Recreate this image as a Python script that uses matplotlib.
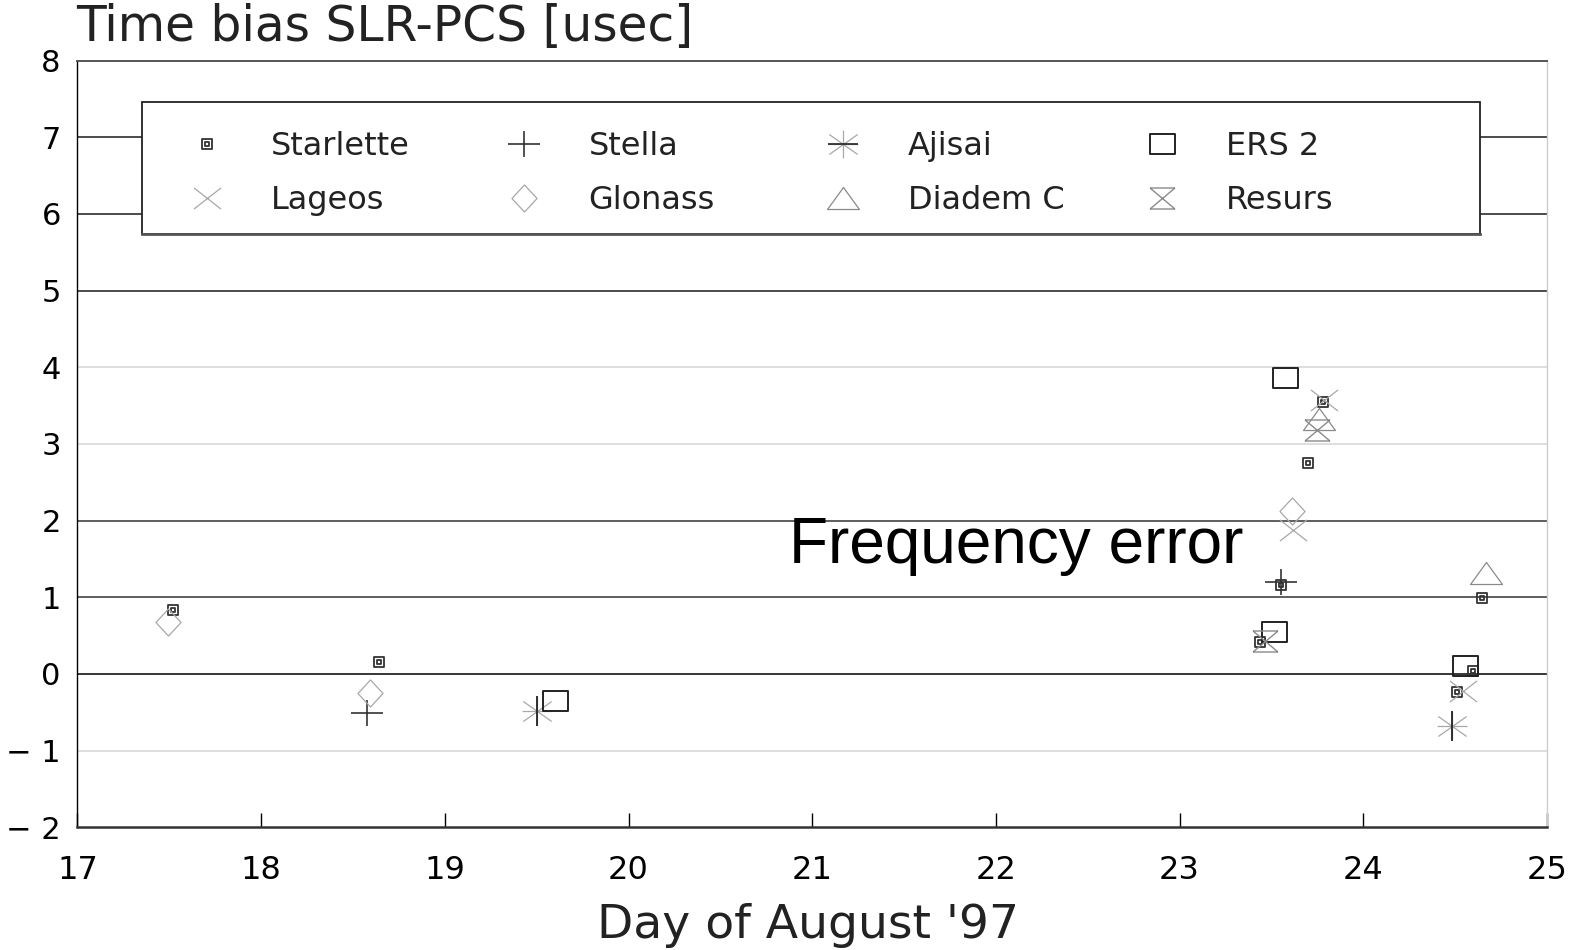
import numpy as np
import matplotlib
matplotlib.use("Agg")
import matplotlib.pyplot as plt
from matplotlib.path import Path
from matplotlib.patches import Rectangle

# ---------------- data ----------------
starlette_x = [17.52, 18.64, 23.44, 23.555, 23.70, 23.78, 24.51, 24.595, 24.645]
starlette_y = [0.83, 0.15, 0.41, 1.16, 2.75, 3.54, -0.24, 0.04, 0.99]
stella_x = [18.575, 23.555]
stella_y = [-0.51, 1.20]
ajisai_x = [19.50, 24.485]
ajisai_y = [-0.48, -0.68]
ers2_x = [19.60, 23.515, 23.575, 24.555]
ers2_y = [-0.36, 0.54, 3.86, 0.10]
lageos_x = [23.62, 23.785, 24.545]
lageos_y = [1.88, 3.57, -0.23]
glonass_x = [17.495, 18.595, 23.61]
glonass_y = [0.67, -0.25, 2.13]
diadem_x = [23.76, 24.67]
diadem_y = [3.32, 1.32]
resurs_x = [23.465, 23.75]
resurs_y = [0.43, 3.18]

x_ticks = [17, 18, 19, 20, 21, 22, 23, 24, 25]
y_ticks = [-2, -1, 0, 1, 2, 3, 4, 5, 6, 7, 8]
y_tick_labels = ["\u2212 2", "\u2212 1", "0", "1", "2", "3", "4", "5", "6", "7", "8"]

title = "Time bias SLR-PCS [usec]"
xlabel = "Day of August '97"
note = "Frequency error"

# ---------------- marker shapes ----------------
M, L, C = Path.MOVETO, Path.LINETO, Path.CLOSEPOLY


def closed(pts):
    return Path(pts + [pts[0]], [M] + [L] * (len(pts) - 1) + [C])


def segs(pairs):
    v, c = [], []
    for a, b in pairs:
        v += [a, b]
        c += [M, L]
    return Path(v, c)


p_starlette = Path(
    [(-1, -1), (1, -1), (1, 1), (-1, 1), (-1, -1),
     (-0.4, -0.4), (0.4, -0.4), (0.4, 0.4), (-0.4, 0.4), (-0.4, -0.4)],
    [M, L, L, L, C, M, L, L, L, C])
p_stella = segs([((-1, 0), (1, 0)), ((0, -0.79), (0, 0.79))])
p_ajisai = segs([((-1, 0), (1, 0)), ((0, -0.93), (0, 0.93)),
                 ((-0.95, -0.67), (0.95, 0.67)), ((-0.95, 0.67), (0.95, -0.67))])
p_ajisai_v = segs([((0, -0.93), (0, 0.93))])
p_ajisai_h = segs([((-1, 0), (1, 0))])
p_ers = closed([(-1, -0.8), (1, -0.8), (1, 0.8), (-1, 0.8)])
p_lageos = segs([((-1, -0.78), (1, 0.78)), ((-1, 0.78), (1, -0.78))])
p_glonass = closed([(0, 1), (0.926, 0), (0, -1), (-0.926, 0)])
p_diadem = closed([(0, 0.69), (1, -0.69), (-1, -0.69)])
p_resurs = segs([((-1, 0.84), (1, 0.84)), ((-1, -0.84), (1, -0.84)),
                 ((-1, 0.84), (1, -0.84)), ((1, 0.84), (-1, -0.84))])

DARK = "#222222"
LIGHT = "#a8a8a8"
MID = "#8a8a8a"

series = [
    # name, x, y, path, size(pt), color, lw
    ("Starlette", starlette_x, starlette_y, p_starlette, 7.0, "#333333", 1.3),
    ("Stella", stella_x, stella_y, p_stella, 23.5, "#333333", 1.2),
    ("Ajisai", ajisai_x, ajisai_y, p_ajisai, 21.5, LIGHT, 0.9),
    ("ERS 2", ers2_x, ers2_y, p_ers, 18.0, DARK, 1.4),
    ("Lageos", lageos_x, lageos_y, p_lageos, 19.5, LIGHT, 0.9),
    ("Glonass", glonass_x, glonass_y, p_glonass, 19.5, LIGHT, 0.9),
    ("Diadem C", diadem_x, diadem_y, p_diadem, 23.0, MID, 0.9),
    ("Resurs", resurs_x, resurs_y, p_resurs, 18.0, MID, 1.0),
]

# ---------------- figure ----------------
plt.rcParams['font.family'] = ['DejaVu Sans']
fig = plt.figure(figsize=(15.78, 9.5), dpi=100)
ax = fig.add_axes([0.0491, 0.1293, 0.9312, 0.8069])
ax.set_xlim(17, 25)
ax.set_ylim(-2, 8)

# grid lines with mixed shades like the original
grid_colors = {7: "#1a1a1a", 6: "#1a1a1a", 5: "#1a1a1a", 4: "#d4d4d4",
               3: "#d4d4d4", 2: "#333333", 1: "#333333", 0: "#000000",
               -1: "#d4d4d4"}
for yv, col in grid_colors.items():
    ax.axhline(yv, color=col, lw=1.1, zorder=1)

ax.spines['left'].set_color("#000000")
ax.spines['left'].set_linewidth(1.0)
ax.spines['top'].set_color("#555555")
ax.spines['top'].set_linewidth(1.4)
ax.spines['right'].set_color("#cccccc")
ax.spines['right'].set_linewidth(1.0)
ax.spines['bottom'].set_color("#333333")
ax.spines['bottom'].set_linewidth(1.8)

ax.set_xticks(x_ticks)
ax.set_xticklabels([str(t) for t in x_ticks])
ax.tick_params(axis='x', direction='in', length=10, width=1.0, pad=20,
               labelsize=23, top=False)
tick_cols = {18: "#cccccc", 19: "#222222", 20: "#222222", 21: "#cccccc",
             22: "#222222", 23: "#cccccc", 24: "#cccccc", 17: "#222222", 25: "#cccccc"}
for t, tv in zip(ax.xaxis.get_major_ticks(), x_ticks):
    t.tick1line.set_color(tick_cols[tv])

ax.set_yticks(y_ticks)
ax.set_yticklabels(y_tick_labels)
ax.tick_params(axis='y', length=0, pad=12, labelsize=22)

# data
for name, xs, ys, pth, ms, col, lw in series:
    ax.plot(xs, ys, linestyle='none', marker=pth, markersize=ms,
            markerfacecolor='none', markeredgecolor=col, markeredgewidth=lw,
            zorder=4)
    if name == "Ajisai":
        ax.plot(xs, ys, linestyle='none', marker=p_ajisai_v, markersize=21.5,
                markerfacecolor='none', markeredgecolor=DARK,
                markeredgewidth=1.3, zorder=5)

# annotation (grid line runs through it, as in the original)
ax.text(20.875, 1.45, note, fontsize=46, family=['Liberation Sans', 'DejaVu Sans'],
        ha='left', va='baseline', zorder=3, color='black')

# ---------------- legend (drawn manually) ----------------
box = Rectangle((0.0438, 0.7732), 0.9109, 0.1731, transform=ax.transAxes,
                facecolor='white', edgecolor='#222222', lw=1.3, zorder=3)
ax.add_patch(box)
ax.plot([0.0438, 0.9547], [0.7732, 0.7732], transform=ax.transAxes,
        color='#555555', lw=2.0, zorder=3.5)

col_marker_x = [0.0882, 0.3041, 0.5212, 0.7383]
col_text_x = [0.1315, 0.3479, 0.5650, 0.7814]
row_y = [0.8913, 0.8203]
text_row_y = [0.8880, 0.8170]
legend_layout = {
    "Starlette": (0, 0), "Stella": (1, 0), "Ajisai": (2, 0), "ERS 2": (3, 0),
    "Lageos": (0, 1), "Glonass": (1, 1), "Diadem C": (2, 1), "Resurs": (3, 1),
}
for name, xs, ys, pth, ms, col, lw in series:
    ci, ri = legend_layout[name]
    ax.plot([col_marker_x[ci]], [row_y[ri]], transform=ax.transAxes,
            linestyle='none', marker=pth, markersize=ms,
            markerfacecolor='none', markeredgecolor=col, markeredgewidth=lw,
            zorder=4)
    if name == "Ajisai":
        ax.plot([col_marker_x[ci]], [row_y[ri]], transform=ax.transAxes,
                linestyle='none', marker=p_ajisai_h, markersize=21.5,
                markerfacecolor='none', markeredgecolor=DARK,
                markeredgewidth=1.2, zorder=5)
    ax.text(col_text_x[ci], text_row_y[ri], name, transform=ax.transAxes,
            fontsize=23, ha='left', va='center', color='#222222', zorder=5)

# titles
fig.text(76 / 1578, 1 - 41 / 950, title, fontsize=35, ha='left', va='baseline',
         color='#222222')
fig.text(808 / 1578, 1 - 938 / 950, xlabel, fontsize=34, ha='center',
         va='baseline', color='#222222')

fig.savefig("out.png", dpi=100)
